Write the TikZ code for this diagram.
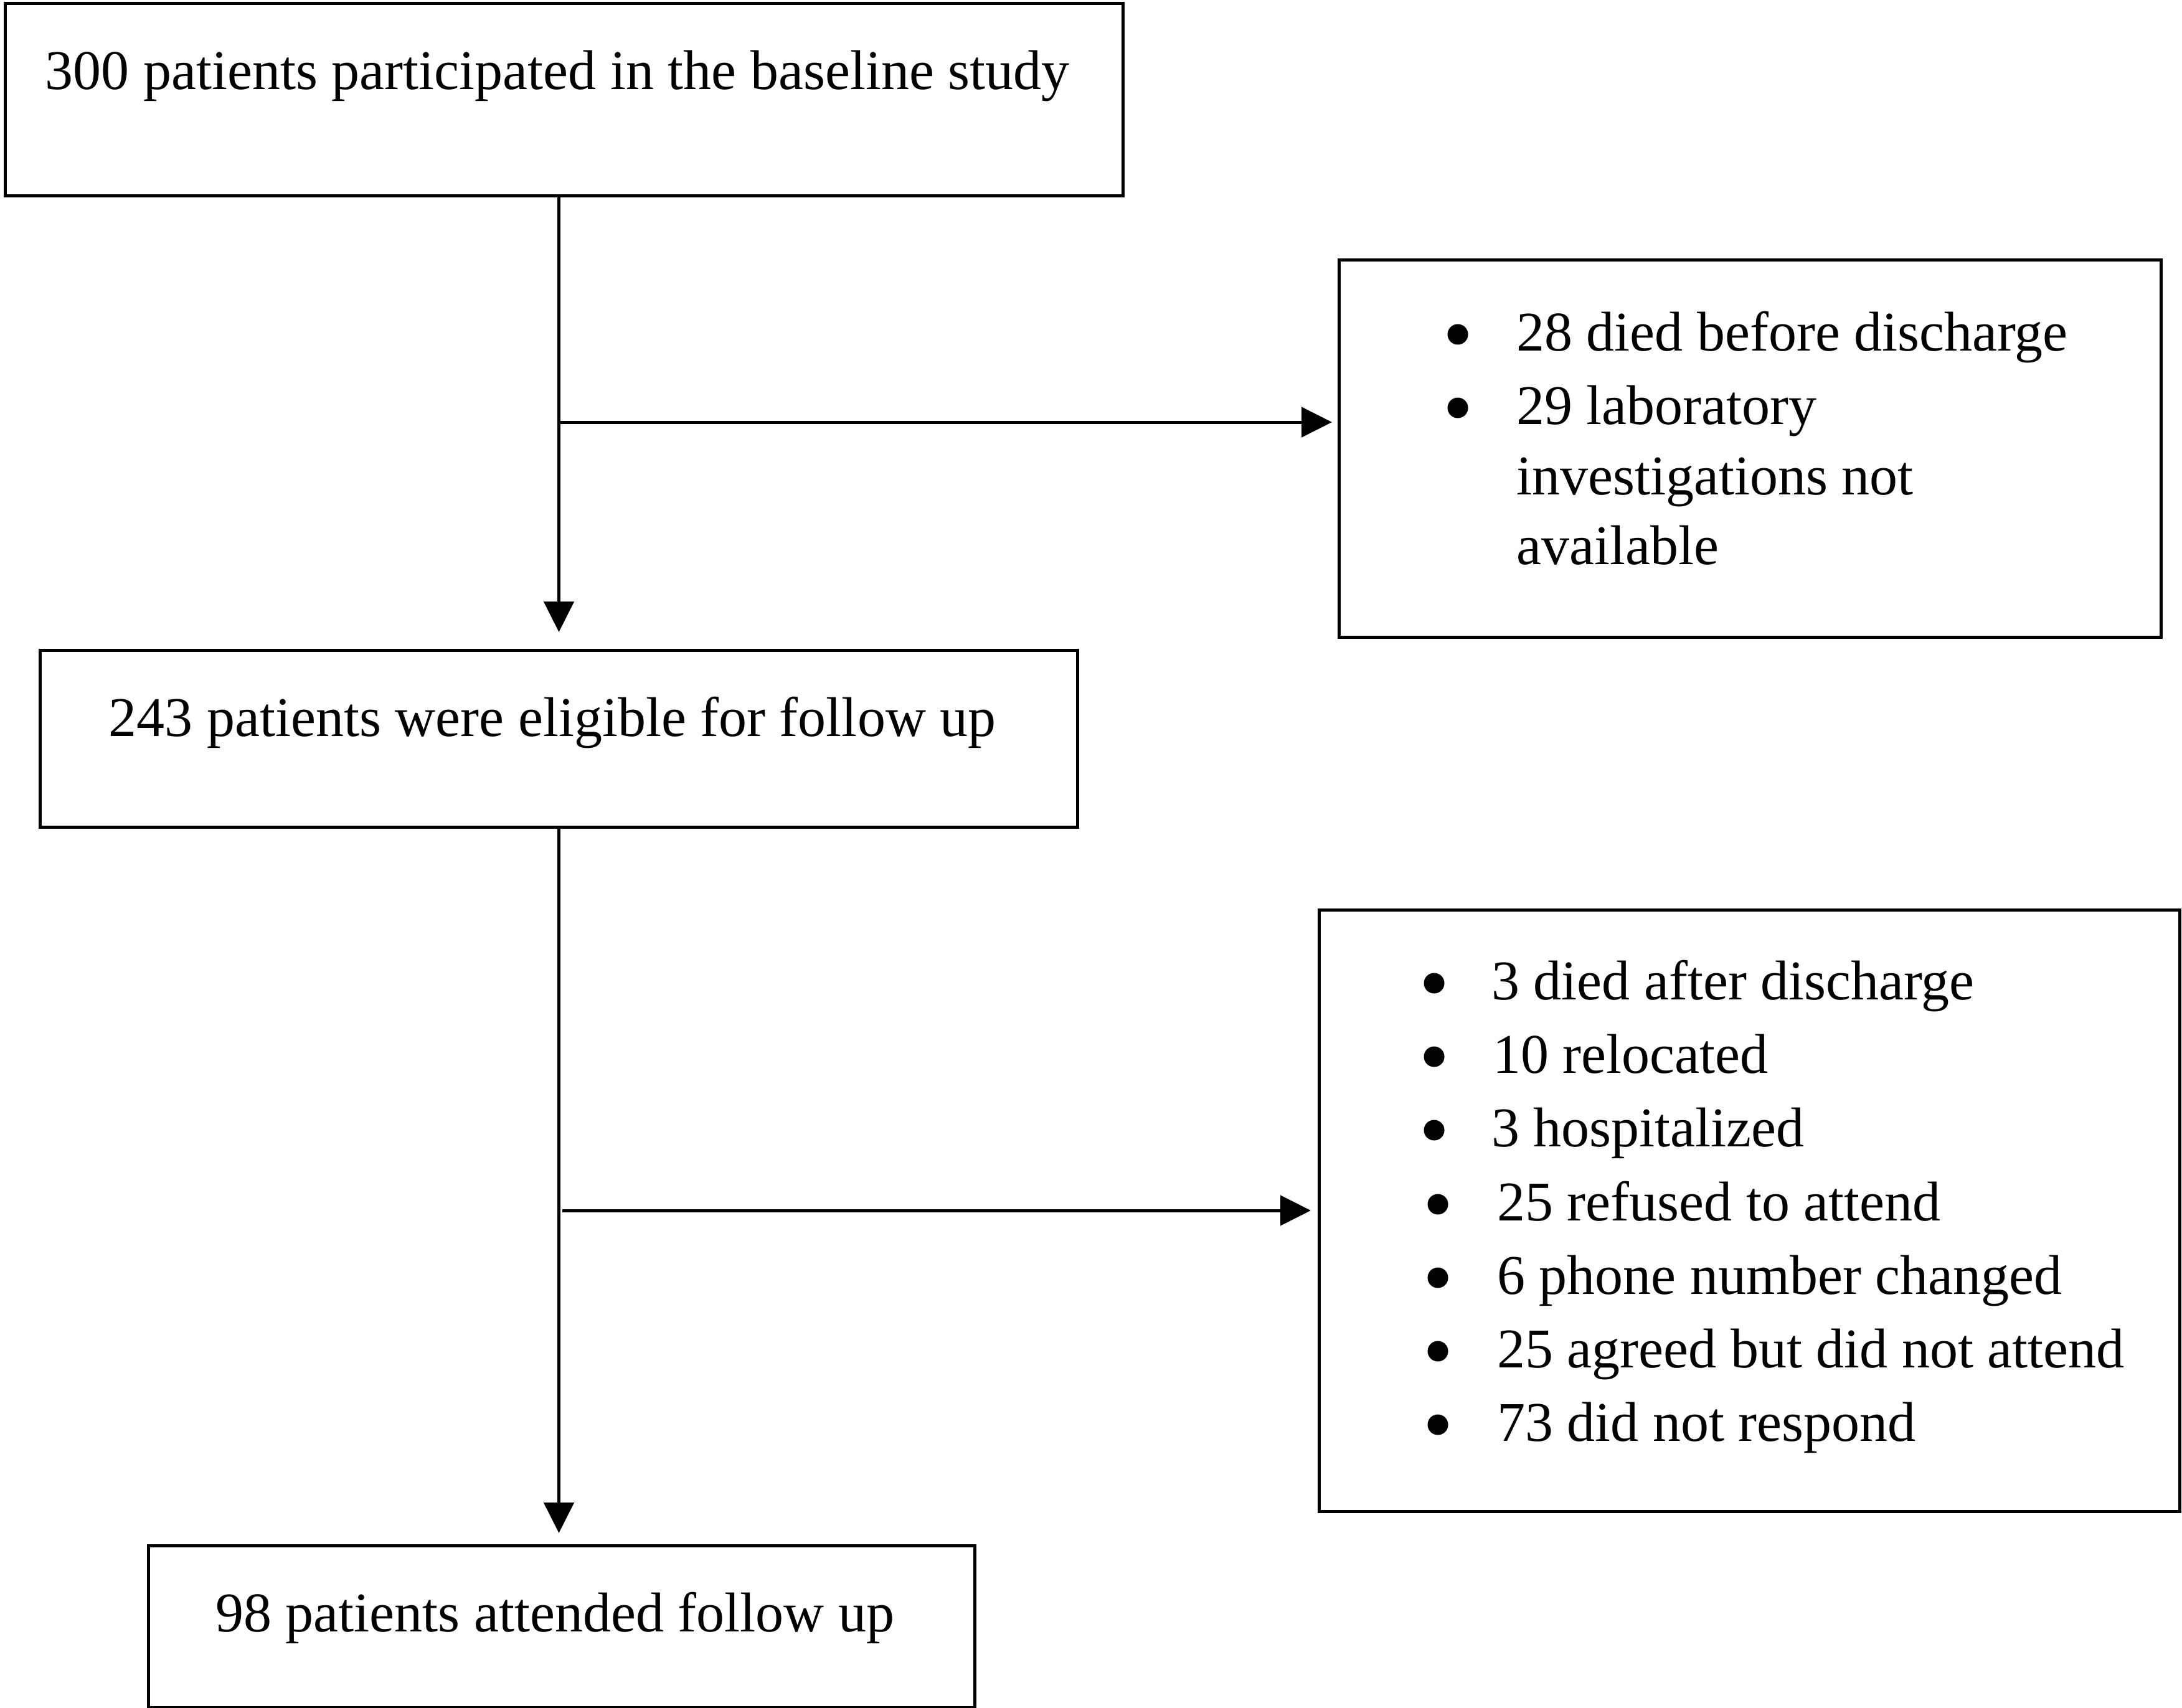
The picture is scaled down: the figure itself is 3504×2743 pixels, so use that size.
\documentclass[tikz,border=0pt]{standalone}
\usepackage{fontspec}
\setmainfont{Liberation Serif}
\usetikzlibrary{arrows.meta}
\begin{document}
\begin{tikzpicture}[x=1pt,y=-1pt,
  box/.style={draw=black,line width=5pt,rectangle,inner sep=0pt,anchor=north west,fill=none},
  txt/.style={inner sep=0pt,font=\fontsize{90pt}{108pt}\selectfont},
  dot/.style={circle,fill=black,draw=none,inner sep=0pt,minimum size=33pt},
  arr/.style={-{Triangle[length=49pt,width=48pt]},line width=5pt}]
\useasboundingbox (0,0) rectangle (3504,2743);
% boxes
\node[box,minimum width=1795pt,minimum height=309pt] (b1) at (6,3) {};
\node[box,minimum width=1320pt,minimum height=606pt] (b2) at (2148,415) {};
\node[box,minimum width=1666pt,minimum height=284pt] (b3) at (62,1042) {};
\node[box,minimum width=1382pt,minimum height=966pt] (b4) at (2116,1459) {};
\node[box,minimum width=1327pt,minimum height=260pt] (b5) at (236,2480) {};
% main texts
\node[txt,anchor=base] (t1) at (895,143) {300 patients participated in the baseline study};
\node[txt,anchor=base] (t3) at (887,1182) {243 patients were eligible for follow up};
\node[txt,anchor=base] (t5) at (891,2620) {98 patients attended follow up};
% exclusion list 1
\node[dot] (u1) at (2341,537) {};
\node[dot] (u2) at (2341,655) {};
\node[txt,anchor=base west] (v1) at (2435,563) {28 died before discharge};
\node[txt,anchor=base west] (v2) at (2435,681) {29 laboratory};
\node[txt,anchor=base west] (v3) at (2435,794) {investigations not};
\node[txt,anchor=base west] (v4) at (2435,906) {available};
% exclusion list 2
\node[dot] (p1) at (2303,1579) {};
\node[dot] (p2) at (2303,1697) {};
\node[dot] (p3) at (2303,1815) {};
\node[dot] (p4) at (2309,1934) {};
\node[dot] (p5) at (2309,2052) {};
\node[dot] (p6) at (2309,2170) {};
\node[dot] (p7) at (2309,2288) {};
\node[txt,anchor=base west] (q1) at (2395,1605) {3 died after discharge};
\node[txt,anchor=base west] (q2) at (2397,1723) {10 relocated};
\node[txt,anchor=base west] (q3) at (2395,1841) {3 hospitalized};
\node[txt,anchor=base west] (q4) at (2404,1960) {25 refused to attend};
\node[txt,anchor=base west] (q5) at (2404,2078) {6 phone number changed};
\node[txt,anchor=base west] (q6) at (2404,2196) {25 agreed but did not attend};
\node[txt,anchor=base west] (q7) at (2404,2314) {73 did not respond};
% connectors
\coordinate (j1) at (895,678);
\coordinate (j2) at (903,1944);
\draw[arr,shorten >=27pt] (b1.south -| b3.north) -- (b3.north);
\draw[arr,shorten >=9pt] (j1) -- (j1 -| b2.west);
\draw[arr,shorten >=18pt] (b3.south) -- (b3.south |- b5.north);
\draw[arr,shorten >=11pt] (j2) -- (j2 -| b4.west);
\end{tikzpicture}
\end{document}
